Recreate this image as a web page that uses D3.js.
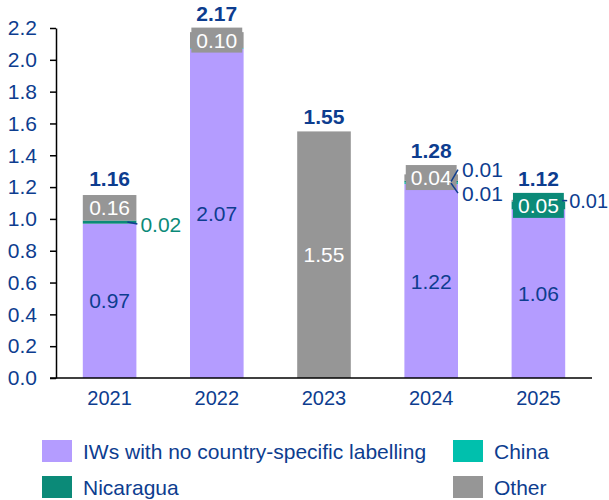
<!DOCTYPE html>
<html><head><meta charset="utf-8">
<script src="https://cdn.jsdelivr.net/npm/d3@7"></script>
<style>html,body{margin:0;padding:0;background:#fff;}svg{display:block;font-family:"Liberation Sans",Arial,sans-serif;}</style>
</head><body>
<svg id="chart" width="609" height="500"></svg>
<script>
const years = ["2021", "2022", "2023", "2024", "2025"];
const seriesNames = ["IWs with no country-specific labelling", "China", "Nicaragua", "Other"];
const iws = [0.97, 2.07, 0, 1.22, 1.06];
const china = [0, 0.004, 0, 0.01, 0];
const nicaragua = [0.02, 0, 0, 0.01, 0.05];
const other = [0.16, 0.10, 1.55, 0.04, 0.01];
const totals = [1.16, 2.17, 1.55, 1.28, 1.12];
const yTicks = [0, 0.2, 0.4, 0.6, 0.8, 1.0, 1.2, 1.4, 1.6, 1.8, 2.0, 2.2];

const colors = ["#b49cff", "#00c0ad", "#0b8a78", "#969696"];
const blue = "#0d3d8f";
const svg = d3.select("#chart");

const x = d3.scaleBand().domain(years).range([56, 592]).paddingInner(0.5).paddingOuter(0.25);
const y = d3.scaleLinear().domain([0, 2.2]).range([378, 28]);

const seriesVals = [iws, china, nicaragua, other];
const rows = years.map((yr, i) => { const r = {year: yr}; seriesNames.forEach((s, k) => r[s] = seriesVals[k][i]); return r; });
const stacked = d3.stack().keys(seriesNames)(rows);

// bars
stacked.forEach((layer, k) => {
  svg.append("g").selectAll("rect").data(layer).join("rect")
    .attr("x", d => x(d.data.year))
    .attr("width", x.bandwidth())
    .attr("y", d => y(d[1]))
    .attr("height", d => Math.max(0, y(d[0]) - y(d[1])))
    .attr("fill", colors[k]);
});

// axes
const yAxis = svg.append("g").attr("transform", "translate(56,0)")
  .call(d3.axisLeft(y).tickValues(yTicks).tickFormat(d3.format(".1f")).tickSize(6).tickSizeOuter(0));
yAxis.select(".domain").attr("stroke", "#000").attr("stroke-width", 1.5);
yAxis.selectAll(".tick line").attr("stroke", "#000").attr("stroke-width", 1.5);
yAxis.selectAll(".tick text").attr("fill", blue).attr("font-size", 21).attr("x", -19).attr("font-family", "Liberation Sans, Arial, sans-serif");

const xAxis = svg.append("g").attr("transform", "translate(0,378)")
  .call(d3.axisBottom(x).tickSize(0).tickSizeOuter(0));
xAxis.select(".domain").attr("d", "M50,0H592").attr("stroke", "#000").attr("stroke-width", 1.5);
xAxis.selectAll(".tick text").attr("fill", blue).attr("font-size", 20).attr("dy", "1.35em").attr("y", 0).attr("font-family", "Liberation Sans, Arial, sans-serif");

// segment labels
const labelG = svg.append("g").attr("font-family", "Liberation Sans, Arial, sans-serif");
const boxH = 25;
const boxTops = years.map(yr => y(0));
years.forEach((yr, i) => {
  const outside = [];
  stacked.forEach((layer, k) => {
    const d = layer[i];
    const v = d[1] - d[0];
    if (v < 0.005) return;
    const cy = (y(d[0]) + y(d[1])) / 2;
    const cx = x(yr) + x.bandwidth() / 2;
    if (v >= 0.04) {
      const txt = v.toFixed(2);
      const t = labelG.append("text").attr("x", cx).attr("y", cy).attr("dy", "0.36em")
        .attr("text-anchor", "middle").attr("font-size", 21)
        .attr("fill", k === 0 ? blue : "#fff").text(txt);
      if (k > 0) {
        const w = Math.min(x.bandwidth(), t.node().getComputedTextLength() + 10);
        labelG.insert("rect", "text").attr("x", cx - w / 2).attr("y", cy - boxH / 2)
          .attr("width", w).attr("height", boxH).attr("fill", colors[k]);
        boxTops[i] = Math.min(boxTops[i], cy - boxH / 2);
      }
    } else {
      outside.push({k, v, cy});
    }
  });
  const right = x(yr) + x.bandwidth();
  outside.forEach((o, j) => {
    let ty = o.cy, x0 = right, x1 = right + 6, tx;
    if (outside.length === 2) { ty = j === 0 ? o.cy + 10 : o.cy - 12; x0 = right - 7; x1 = right; }
    tx = x1 + 4;
    if (i === 0) { x0 = right - 9; x1 = right + 1; ty = o.cy + 2; tx = right + 4; }
    if (i === 4) { x0 = right - 3; x1 = right + 2; tx = right + 4; }
    const tcol = (i === 0) ? colors[2] : blue;
    labelG.append("line").attr("x1", x0).attr("y1", o.cy).attr("x2", x1).attr("y2", ty)
      .attr("stroke", blue).attr("stroke-width", 1.5);
    labelG.append("text").attr("x", tx).attr("y", ty).attr("dy", "0.36em")
      .attr("font-size", i === 4 ? 20 : 21).attr("fill", tcol).text(o.v.toFixed(2));
  });
});

// totals
years.forEach((yr, i) => {
  const top = Math.min(y(totals[i]), boxTops[i]);
  labelG.append("text").attr("x", x(yr) + x.bandwidth() / 2).attr("y", top - 7)
    .attr("text-anchor", "middle").attr("font-size", 21).attr("font-weight", "bold")
    .attr("fill", blue).text(totals[i].toFixed(2));
});

// legend
const legendPos = [[42, 440], [453, 440], [42, 476], [453, 476]];
const legendOrder = [0, 1, 2, 3];
const lg = svg.append("g").attr("font-family", "Liberation Sans, Arial, sans-serif");
legendOrder.forEach((k, j) => {
  const [lx, ly] = legendPos[j];
  lg.append("rect").attr("x", lx).attr("y", ly).attr("width", 30).attr("height", 22).attr("fill", colors[k]);
  lg.append("text").attr("x", lx + 41).attr("y", ly + 11).attr("dy", "0.36em")
    .attr("font-size", 21).attr("fill", blue).text(seriesNames[k]);
});
</script>
</body></html>
